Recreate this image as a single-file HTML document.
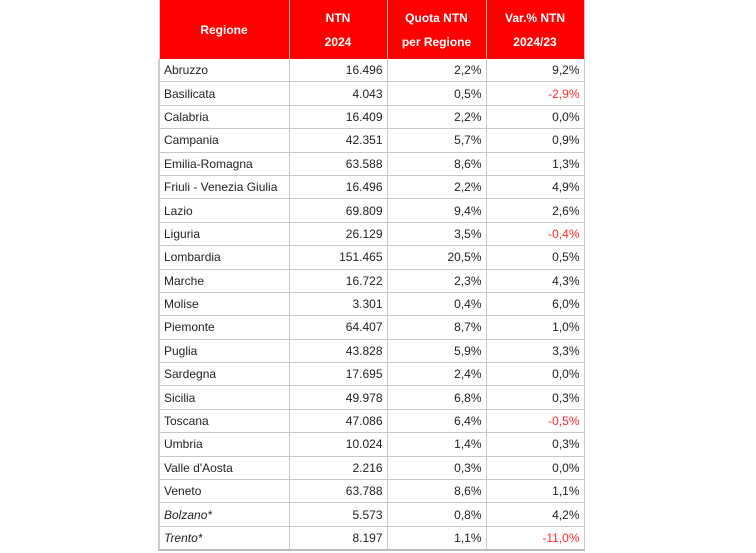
<!DOCTYPE html>
<html><head><style>
body{margin:0;width:756px;height:553px;background:#fff;overflow:hidden;font-family:"Liberation Sans",sans-serif;}
table{position:absolute;left:158px;top:0;border-collapse:collapse;table-layout:fixed;width:425px;}
th{background:#ff0000;color:#fff;font-weight:bold;font-size:12px;height:59px;padding:0;border-right:1px solid #f4b0b0;line-height:24px;}
th:first-child{border-left:1px solid #ccc}
td{height:22.4px;padding:0 4px;font-size:12px;color:#222;border:1px solid #c8c8c8;border-top:none;}
td:first-child{text-align:left;border-left:2px solid #ccc}
td:not(:first-child){text-align:right}
tr:last-child td{border-bottom:2px solid #bbb}
.n{color:#ff2a2a}
i{font-style:italic}
</style></head><body>
<table>
<colgroup><col style="width:130px"><col style="width:98px"><col style="width:99px"><col style="width:98px"></colgroup>
<tr><th>Regione</th><th>NTN<br>2024</th><th>Quota NTN<br>per Regione</th><th>Var.% NTN<br>2024/23</th></tr>
<tr><td>Abruzzo</td><td>16.496</td><td>2,2%</td><td>9,2%</td></tr>
<tr><td>Basilicata</td><td>4.043</td><td>0,5%</td><td class="n">-2,9%</td></tr>
<tr><td>Calabria</td><td>16.409</td><td>2,2%</td><td>0,0%</td></tr>
<tr><td>Campania</td><td>42.351</td><td>5,7%</td><td>0,9%</td></tr>
<tr><td>Emilia-Romagna</td><td>63.588</td><td>8,6%</td><td>1,3%</td></tr>
<tr><td>Friuli - Venezia Giulia</td><td>16.496</td><td>2,2%</td><td>4,9%</td></tr>
<tr><td>Lazio</td><td>69.809</td><td>9,4%</td><td>2,6%</td></tr>
<tr><td>Liguria</td><td>26.129</td><td>3,5%</td><td class="n">-0,4%</td></tr>
<tr><td>Lombardia</td><td>151.465</td><td>20,5%</td><td>0,5%</td></tr>
<tr><td>Marche</td><td>16.722</td><td>2,3%</td><td>4,3%</td></tr>
<tr><td>Molise</td><td>3.301</td><td>0,4%</td><td>6,0%</td></tr>
<tr><td>Piemonte</td><td>64.407</td><td>8,7%</td><td>1,0%</td></tr>
<tr><td>Puglia</td><td>43.828</td><td>5,9%</td><td>3,3%</td></tr>
<tr><td>Sardegna</td><td>17.695</td><td>2,4%</td><td>0,0%</td></tr>
<tr><td>Sicilia</td><td>49.978</td><td>6,8%</td><td>0,3%</td></tr>
<tr><td>Toscana</td><td>47.086</td><td>6,4%</td><td class="n">-0,5%</td></tr>
<tr><td>Umbria</td><td>10.024</td><td>1,4%</td><td>0,3%</td></tr>
<tr><td>Valle d'Aosta</td><td>2.216</td><td>0,3%</td><td>0,0%</td></tr>
<tr><td>Veneto</td><td>63.788</td><td>8,6%</td><td>1,1%</td></tr>
<tr><td><i>Bolzano*</i></td><td>5.573</td><td>0,8%</td><td>4,2%</td></tr>
<tr><td><i>Trento*</i></td><td>8.197</td><td>1,1%</td><td class="n">-11,0%</td></tr>
</table>
</body></html>
